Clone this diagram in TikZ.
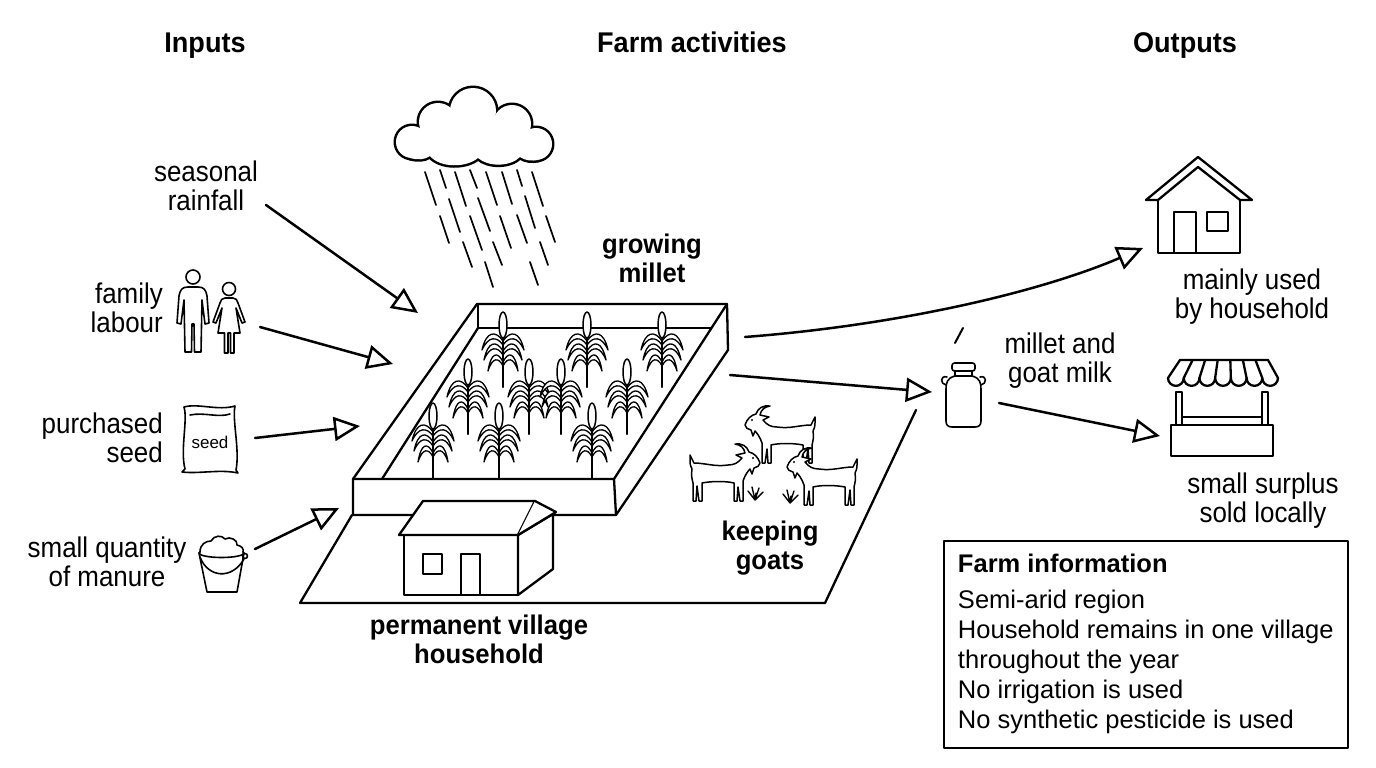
\documentclass[tikz,border=0pt]{standalone}
\usepackage{fontspec}
\setmainfont{Liberation Sans}
\newfontfamily\lblfont{Liberation Sans}[FakeStretch = 0.91]
\newfontfamily\hdrfont{Liberation Sans}[FakeStretch = 0.95]
\usetikzlibrary{arrows.meta}
\tikzset{%
	flow/.style = {line width = 2.5pt, -{Triangle[open, length = 26pt, width = 24pt]}},
	lbl/.style = {inner sep = 0pt, font = \lblfont\fontsize{28.5}{29}\selectfont},
	hdr/.style = {inner sep = 0pt, font = \hdrfont\bfseries\fontsize{28.5}{29}\selectfont},
	tag/.style = {inner sep = 0pt, align = center, font = \hdrfont\bfseries\fontsize{27}{29}\selectfont},
	wall/.style = {line width = 2.3pt},
	icon/.style = {line width = 1.6pt},
	plant/.pic = {
		\foreach \s in {-1,1}
			\foreach \ly/\lw in {-46/21, -36/19, -25/15}
				\draw [fill = white, line width = 1.3pt] (0,\ly) .. controls ({0.35*\s*\lw},{\ly-11}) and ({0.8*\s*\lw},{\ly-10}) .. ({\s*\lw},{\ly+9}) .. controls ({0.7*\s*\lw},{\ly-5}) and ({0.3*\s*\lw},{\ly-5}) .. (0,{\ly+4}) -- cycle;
		\draw [line width = 2.2pt] (0,-50) -- (0,0);
		\draw [fill = white, line width = 1.5pt] (0,-62) ellipse [x radius = 4, y radius = 13];
	},
	goat/.pic = {
		\draw [fill = white, line width = 1.5pt] (0,20) .. controls (2,14) and (6,10) .. (11,9)
			.. controls (13,3) and (18,0) .. (25,1) .. controls (19,2) and (16,5) .. (15,10)
			-- (24,12) -- (18,15) .. controls (22,20) and (26,22) .. (32,22)
			.. controls (45,24) and (55,20) .. (66,20) -- (70,12) -- (70,18)
			.. controls (70,22) and (69,24) .. (68,26) .. controls (69,32) and (68,36) .. (67,40)
			-- (67,58) -- (64,58) -- (63,43) -- (61,58) -- (58,58) -- (58,40)
			.. controls (48,38) and (34,38) .. (26,40)
			-- (26,58) -- (23,58) -- (22,44) -- (20,58) -- (17,58) -- (17,38)
			.. controls (15,32) and (12,28) .. (10,26) -- (8,31) -- (6,25)
			.. controls (3,24) and (0,23) .. (0,20) -- cycle;
		\fill (7,15) circle (1.2);
	},
	tuft/.pic = {
		\draw [line width = 1.4pt] (-7,-9) -- (0,0) -- (-3,-13) (0,0) -- (1,-7) (0,0) -- (4,-12) (0,0) -- (8,-8);
	}
}

\begin{document}
\begin{tikzpicture}[x = 1pt, y = -1pt, line join = round, line cap = round]
	\useasboundingbox (0,0) rectangle (1376,768);
	\fill [white] (0,0) rectangle (1376,768);

	% headings
	\node [hdr, anchor = base] (inputs) at (205,53) {Inputs};
	\node [hdr, anchor = base] (activities) at (692,53) {Farm activities};
	\node [hdr, anchor = base] (outputs) at (1185,53) {Outputs};

	% inputs
	\node [lbl, align = center] (rainfall) at (206,186) {seasonal\\rainfall};
	\node [lbl, align = right, anchor = east] (labour) at (163,308) {family\\labour};
	\node [lbl, align = right, anchor = east] (seed) at (163,438) {purchased\\seed};
	\node [lbl, align = center] (manure) at (107,562) {small quantity\\of manure};

	% people
	\draw [icon] (193,277) circle (7);
	\draw [icon, fill = white] (188,287) -- (198,287) .. controls (204,287) and (206,290) .. (207,296) -- (209,323) -- (205,324) -- (202,300) -- (201,352) -- (194.5,352) -- (194,324) -- (192,324) -- (191.5,352) -- (185,352) -- (184,300) -- (181,324) -- (177,323) -- (179,296) .. controls (180,290) and (182,287) .. (188,287) -- cycle;
	\draw [icon] (229,289) circle (6.5);
	\draw [icon, fill = white] (225,298) -- (233,298) .. controls (236,298) and (237,300) .. (238,303) -- (245,322) -- (242,323) -- (236,308) -- (240,333) -- (234,333) -- (234,353) -- (230.5,353) -- (230.5,333) -- (228,333) -- (228,353) -- (224.5,353) -- (224.5,333) -- (218,333) -- (222,308) -- (216,323) -- (213,322) -- (220,303) .. controls (221,300) and (222,298) .. (225,298) -- cycle;

	% seed bag
	\draw [icon, fill = white] (184,407) .. controls (198,403) and (218,411) .. (235,406) .. controls (232,420) and (240,450) .. (236,470) -- (238,473) .. controls (220,469) and (200,474) .. (182,472) -- (185,469) .. controls (180,450) and (188,420) .. (184,407) -- cycle;
	\draw [icon] (190,415) .. controls (205,412) and (218,418) .. (230,414);
	\node [inner sep = 0pt, font = \fontsize{17}{20}\selectfont] (bag) at (210,442) {seed};

	% bucket
	\draw [icon, fill = white] (199,553) -- (207,592) -- (237,592) -- (244,553);
	\draw [icon] (221.5,553) ellipse [x radius = 22.5, y radius = 4.5];
	\draw [icon, fill = white] (200,552) .. controls (200,544) and (206,541) .. (211,541) .. controls (214,535) and (222,535) .. (225,539) .. controls (230,536) and (238,540) .. (237,545) .. controls (242,546) and (244,549) .. (243,552);
	\draw [icon] (200,557) .. controls (208,578) and (232,580) .. (244,559);
	\draw [icon] (245,556) circle (2.5);

	% cloud and rain
	\foreach \cx/\cy/\r in {412/142/16, 438/122/19, 473/111/23, 512/124/19, 536/144/16}
		\draw [line width = 5pt] (\cx,\cy) circle (\r);
	\draw [line width = 5pt] (410,158) .. controls (418,160) and (424,160) .. (430,156) .. controls (440,168) and (466,168) .. (478,158) .. controls (488,167) and (510,167) .. (520,157) .. controls (526,161) and (532,161) .. (538,160);
	\foreach \cx/\cy/\r in {412/142/16, 438/122/19, 473/111/23, 512/124/19, 536/144/16}
		\fill [white] (\cx,\cy) circle (\r);
	\fill [white] (412,142) -- (438,122) -- (473,111) -- (512,124) -- (536,144) -- (538,160) .. controls (532,161) and (526,161) .. (520,157) .. controls (510,167) and (488,167) .. (478,158) .. controls (466,168) and (440,168) .. (430,156) .. controls (424,160) and (418,160) .. (410,158) -- cycle;
	\foreach \xa/\ya/\xb/\yb in {425/172/436/205, 440/170/446/188, 455/172/466/206, 470/170/477/188, 486/172/497/205, 502/172/512/204, 517/170/522/186, 532/172/543/206,
		449/199/460/232, 478/198/490/231, 525/196/535/228, 440/216/449/243, 470/216/482/250, 500/216/511/248, 517/215/527/243, 546/216/555/242,
		463/242/472/267, 493/242/502/265, 540/242/548/265, 485/262/493/287, 530/262/538/285}
		\draw [line width = 1.7pt] (\xa,\ya) -- (\xb,\yb);

	% ground and millet field
	\draw [wall] (916,410) -- (825,603) -- (300,603) -- (352,515);
	\draw [wall, fill = white] (477,304) -- (727,304) -- (728,350) -- (616,515) -- (353,515) -- (353,479) -- cycle;
	\draw [wall] (353,479) -- (614,479) -- (727,304);
	\draw [wall] (614,479) -- (616,515);
	\draw [wall] (478,304) -- (478,328) -- (711,328);
	\draw [wall] (478,328) -- (382,479);
	\foreach \px/\py in {503/387, 587/387, 662/387, 468/434, 529/434, 561/434, 627/434, 433/478, 499/478, 592/478}
		\pic at (\px,\py) {plant};

	% village house
	\draw [wall, fill = white] (404,535) rectangle (518,595);
	\draw [wall, fill = white] (518,535) -- (553,514) -- (553,569) -- (518,595) -- cycle;
	\draw [wall, fill = white] (399,535) -- (423,501) -- (535,501) -- (518,535) -- cycle;
	\draw [wall, fill = white] (535,501) -- (556,512) -- (518,535);
	\draw [wall] (423,554) rectangle (442,574);
	\draw [wall] (461,595) -- (461,554) -- (480,554) -- (480,595);

	% goats
	\pic at (745,405) {goat};
	\pic [xscale = -1] at (760,443) {goat};
	\pic at (787,447) {goat};
	\pic at (755,500) {tuft};
	\pic at (790,503) {tuft};

	\node [tag] (millet) at (652,258) {growing\\millet};
	\node [tag] (goats) at (770,548) {keeping\\goats};
	\node [tag] (village) at (479,639) {permanent village\\household};

	% milk can
	\draw [icon, fill = white] (955,371) -- (955,376) .. controls (947,378) and (946,383) .. (946,389) -- (946,421) .. controls (946,425) and (948,427) .. (952,427) -- (975,427) .. controls (979,427) and (981,425) .. (981,421) -- (981,389) .. controls (981,383) and (980,378) .. (972,376) -- (972,371);
	\draw [icon, fill = white, rounded corners = 2.5pt] (952,363) rectangle (975,371);
	\draw [icon] (955,376) -- (972,376);
	\draw [icon] (947,377) .. controls (940,375) and (940,384) .. (946,385);
	\draw [icon] (980,377) .. controls (987,375) and (987,384) .. (981,385);
	\draw [line width = 2pt] (955,343) -- (963,328);

	% household
	\draw [wall, fill = white] (1146,200) -- (1198,157) -- (1252,200) -- (1240,200) -- (1198,167) -- (1158,200) -- cycle;
	\draw [wall] (1158,200) -- (1158,253) -- (1240,253) -- (1240,200);
	\draw [wall] (1174,253) -- (1174,212) -- (1196,212) -- (1196,253);
	\draw [wall] (1207,212) rectangle (1228,231);

	% market stall
	\draw [wall, fill = white] (1168,378) -- (1180,360) -- (1268,360) -- (1278,378)
		\foreach \i in {1,...,7} { arc (0:180:7.857) };
	\foreach \i in {1,...,6}
		\draw [wall] ({1180+12.571*\i},360) -- ({1168+15.714*\i},378);
	\draw [wall] (1176,392) rectangle (1182,425);
	\draw [wall] (1262,392) rectangle (1268,425);
	\draw [wall] (1182,417) -- (1262,417);
	\draw [wall, fill = white] (1171,425) rectangle (1273,456);

	% outputs
	\node [lbl, align = center] (milk) at (1060,361) {millet and\\goat milk};
	\node [lbl, align = center] (home) at (1252,297) {mainly used\\by household};
	\node [lbl, align = center] (surplus) at (1263,501) {small surplus\\sold locally};

	\node [draw, line width = 1.6pt, anchor = north west, minimum width = 404pt, minimum height = 207pt, inner xsep = 12pt, align = left, font = \fontsize{25.5}{30}\selectfont] (info) at (943,540)
		{\textbf{Farm information}\\[6pt]Semi-arid region\\Household remains in one village\\throughout the year\\No irrigation is used\\No synthetic pesticide is used};

	% arrows
	\coordinate (rainS) at (266,205);
	\coordinate (rainE) at (418,313);
	\coordinate (labS) at (260,327);
	\coordinate (labE) at (393,364);
	\coordinate (seedS) at (255,438);
	\coordinate (seedE) at (360,426);
	\coordinate (manS) at (255,549);
	\coordinate (manE) at (339,508);
	\coordinate (fieldA) at (745,337);
	\coordinate (houseE) at (1143,248);
	\coordinate (fieldB) at (730,375);
	\coordinate (canE) at (932,392);
	\coordinate (canS) at (999,403);
	\coordinate (stallE) at (1160,436);
	\draw [flow] (rainS) -- (rainE);
	\draw [flow] (labS) -- (labE);
	\draw [flow] (seedS) -- (seedE);
	\draw [flow] (manS) -- (manE);
	\draw [flow] (fieldA) .. controls (900,325) and (1040,292) .. (houseE);
	\draw [flow] (fieldB) -- (canE);
	\draw [flow] (canS) -- (stallE);
\end{tikzpicture}
\end{document}
